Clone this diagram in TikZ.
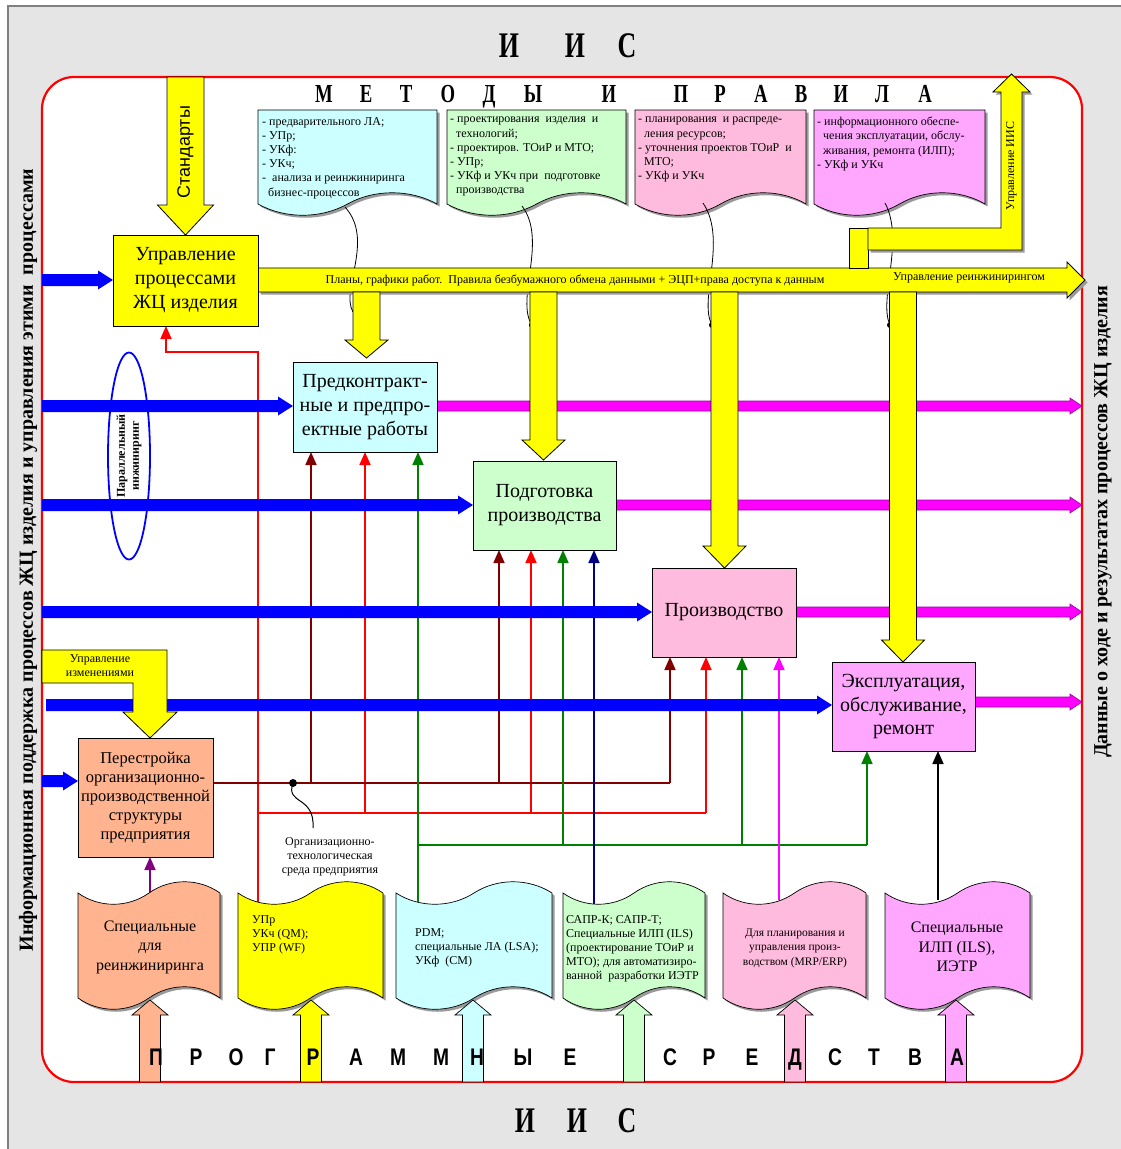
\documentclass[tikz,border=0pt]{standalone}
\usepackage{fontspec}
\setmainfont{Liberation Serif}
\setsansfont{Liberation Sans}
\newfontfamily\titleserif[FakeStretch=0.72]{Liberation Serif}
\newfontfamily\titlesans[FakeStretch=0.8]{Liberation Sans}
\usetikzlibrary{arrows.meta,shapes.geometric,shadows}
\definecolor{bggray}{HTML}{E5E5E5}
\definecolor{ccyan}{HTML}{CCFFFF}
\definecolor{cgreen}{HTML}{CCFFCC}
\definecolor{cpink}{HTML}{FFBBDD}
\definecolor{cviolet}{HTML}{FFA6FF}
\definecolor{csalmon}{HTML}{FFB38F}
\definecolor{cyel}{HTML}{FFFF00}
\definecolor{cmaroon}{HTML}{800000}
\definecolor{cgreenline}{HTML}{008000}
\definecolor{cnavy}{HTML}{000080}
\definecolor{cpurple}{HTML}{800080}
\definecolor{cmag}{HTML}{FF00FF}
\definecolor{cmagdark}{HTML}{9900AA}
\definecolor{cshadow}{HTML}{9A9A9A}
\newcommand{\RArr}[7]{\filldraw[#7] (#1,{#3-#4}) -- ({#2-#6},{#3-#4}) -- ({#2-#6},{#3-#5}) -- (#2,#3) -- ({#2-#6},{#3+#5}) -- ({#2-#6},{#3+#4}) -- (#1,{#3+#4}) -- cycle;}
\newcommand{\DArr}[7]{\filldraw[#7] ({#1-#4},#2) -- ({#1+#4},#2) -- ({#1+#4},{#3-#6}) -- ({#1+#5},{#3-#6}) -- (#1,#3) -- ({#1-#5},{#3-#6}) -- ({#1-#4},{#3-#6}) -- cycle;}
\newcommand{\UArr}[7]{\filldraw[#7] ({#1-#4},#2) -- ({#1+#4},#2) -- ({#1+#4},{#3+#6}) -- ({#1+#5},{#3+#6}) -- (#1,#3) -- ({#1-#5},{#3+#6}) -- ({#1-#4},{#3+#6}) -- cycle;}
\newcommand{\TopDoc}[4]{\filldraw[fill=#3, draw=black, line width=0.7pt, docshadow] (#1,110) -- (#2,110) -- (#2,#4) .. controls ({#2-0.15*(#2-#1)},{#4-15}) and ({#2-0.35*(#2-#1)},{#4-15}) .. ({0.5*(#1+#2)},#4) .. controls ({#1+0.35*(#2-#1)},{#4+15}) and ({#1+0.15*(#2-#1)},{#4+15}) .. (#1,#4) -- cycle;}
\newcommand{\BotDoc}[3]{\filldraw[fill=#3, draw=black, line width=0.7pt, docshadow] (#1,893) .. controls ({#1+0.15*(#2-#1)},908) and ({#1+0.35*(#2-#1)},908) .. ({0.5*(#1+#2)},893) .. controls ({#1+0.65*(#2-#1)},878) and ({#1+0.85*(#2-#1)},878) .. (#2,893) -- (#2,998) .. controls ({#2-0.15*(#2-#1)},983) and ({#2-0.35*(#2-#1)},983) .. ({0.5*(#1+#2)},998) .. controls ({#1+0.35*(#2-#1)},1013) and ({#1+0.15*(#2-#1)},1013) .. (#1,998) -- cycle;}
\begin{document}
\begin{tikzpicture}[x=1pt,y=-1pt,
  docshadow/.style={drop shadow={shadow xshift=2.5pt, shadow yshift=-2.5pt, fill=cshadow, opacity=1}},
  box/.style={draw=black, line width=0.8pt, align=center, inner sep=0pt, font=\fontsize{20}{24}\selectfont},
  conn/.style={line width=1.7pt, -{Triangle[length=13pt,width=11pt]}},
  plainline/.style={line width=1.7pt},
  doctext/.style={align=left, anchor=north west, inner sep=0pt, font=\fontsize{12}{14.2}\selectfont},
  smalltext/.style={inner sep=0pt, font=\fontsize{12}{14}\selectfont},
  yel/.style={fill=cyel, draw=black, line width=0.8pt},
  bluearr/.style={fill=blue, draw=none},
  magarr/.style={fill=cmag, draw=cmagdark, line width=0.6pt},
  bigtitle/.style={anchor=base, inner sep=0pt, font=\titleserif\bfseries\fontsize{36}{36}\selectfont},
  midtitle/.style={anchor=base, inner sep=0pt, font=\titleserif\bfseries\fontsize{26}{26}\selectfont},
  sanstitle/.style={anchor=base, inner sep=0pt, font=\titlesans\bfseries\fontsize{24}{24}\selectfont}]
\useasboundingbox (0,0) rectangle (1121,1149);
% background
\fill[white] (0,0) rectangle (1121,1149);
\fill[bggray] (8,6) rectangle (1121,1149);
\draw[gray, line width=1.5pt] (8,1149) -- (8,6) -- (1121,6);
\draw[red, line width=2.2pt, fill=white, rounded corners=32pt] (42,77) rectangle (1082,1082);
% titles
\node[bigtitle] (t1) at (509,57) {И};
\node[bigtitle] (t2) at (575,57) {И};
\node[bigtitle] (t3) at (627,57) {С};
\node[bigtitle] (b1) at (525,1132) {И};
\node[bigtitle] (b2) at (577,1132) {И};
\node[bigtitle] (b3) at (627,1132) {С};
\foreach \x/\l [count=\i] in {324/М,366/Е,406/Т,448/О,489/Д,533/Ы,609/И,681/П,720/Р,761/А,801/В,841/И,882/Л,925/А}
  \node[midtitle] (mt\i) at (\x,102) {\l};
% side texts
\node[rotate=90, inner sep=0pt, font=\bfseries\fontsize{20}{22}\selectfont] (lefttxt) at (28,560) {Информационная поддержка процессов ЖЦ изделия и управления этими\ \ процессами};
\node[rotate=90, inner sep=0pt, font=\bfseries\fontsize{20}{22}\selectfont] (righttxt) at (1103,522) {Данные о ходе и результатах процессов ЖЦ изделия};
% top documents
\TopDoc{258}{437}{ccyan}{204}
\TopDoc{447}{626}{cgreen}{204}
\TopDoc{635}{806}{cpink}{204}
\TopDoc{814}{985}{cviolet}{204}
\node[doctext] (d1) at (262,117) {- предварительного ЛА;\\- УПр;\\- УКф:\\- УКч;\\-\ \ анализа и реинжиниринга\\\hspace*{6pt}бизнес-процессов};
\node[doctext] (d2) at (450,117) {- проектирования\ \ изделия\ \ и\\\hspace*{6pt}технологий;\\- проектиров. ТОиР и МТО;\\- УПр;\\- УКф и УКч при\ \ подготовке\\\hspace*{6pt}производства};
\node[doctext] (d3) at (638,117) {- планирования\ \ и распреде-\\\hspace*{6pt}ления ресурсов;\\- уточнения проектов ТОиР\ \ и\\\hspace*{6pt}МТО;\\- УКф и УКч};
\node[doctext] (d4) at (817,117) {- информационного обеспе-\\\hspace*{6pt}чения эксплуатации, обслу-\\\hspace*{6pt}живания, ремонта (ИЛП);\\- УКф и УКч};
% wavy lines from top documents
\draw[line width=0.8pt] (345,207) .. controls (375,240) and (340,290) .. (353,312);
\draw[line width=0.8pt] (522,206) .. controls (548,240) and (515,300) .. (532,325);
\draw[line width=0.8pt] (703,203) .. controls (728,240) and (698,300) .. (712,325);
\draw[line width=0.8pt] (885,203) .. controls (905,240) and (878,300) .. (890,325);
\fill (532,325) circle (3pt) (712,325) circle (3pt) (890,325) circle (3pt);
% thin connectors
\draw[conn, red] (258,905) |- (166,352) -- (166,326);
\draw[plainline, red] (258,813) -- (706,813);
\draw[conn, red] (365,813) -- (365,452);
\draw[conn, red] (531,813) -- (531,550);
\draw[conn, red] (706,813) -- (706,657);
\draw[plainline, cmaroon] (213,783) -- (670,783);
\draw[conn, cmaroon] (311,783) -- (311,452);
\draw[conn, cmaroon] (499,783) -- (499,550);
\draw[conn, cmaroon] (670,783) -- (670,657);
\draw[conn, cgreenline] (418,905) -- (418,452);
\draw[plainline, cgreenline] (418,845) -- (867,845);
\draw[conn, cgreenline] (563,845) -- (563,550);
\draw[conn, cgreenline] (742,845) -- (742,657);
\draw[conn, cgreenline] (867,845) -- (867,751);
\draw[conn, cnavy] (594,905) -- (594,550);
\draw[conn, cpurple] (150,893) -- (150,857);
\draw[conn, cmag] (779,900) -- (779,657);
\draw[conn, black] (938,900) -- (938,751);
\fill (293,783) circle (4pt);
\draw[line width=1pt] (293,783) .. controls (285,805) and (315,795) .. (313,828);
\node[smalltext, align=center] (orgenv) at (330,857) {Организационно-\\технологическая\\среда предприятия};
% blue arrows
\RArr{42}{113}{280}{6}{9.5}{15}{bluearr}
\RArr{42}{293}{406}{6}{9.5}{15}{bluearr}
\RArr{42}{473}{505}{6}{9.5}{15}{bluearr}
\RArr{42}{652}{612}{6}{9.5}{15}{bluearr}
\RArr{46}{832}{705}{6}{9.5}{15}{bluearr}
\RArr{42}{78}{781}{6}{9.5}{15}{bluearr}
% magenta arrows
\RArr{437}{1082}{406}{5}{8}{12}{magarr}
\RArr{616}{1082}{505}{5}{8}{12}{magarr}
\RArr{796}{1082}{612}{5}{8}{12}{magarr}
\RArr{975}{1082}{702}{5}{8}{12}{magarr}
% ellipse
\draw[blue, line width=1.8pt] (129,456) ellipse [x radius=21pt, y radius=103.5pt];
\node[rotate=90, align=center, inner sep=0pt, font=\bfseries\fontsize{12}{14}\selectfont] (par) at (129,456) {Параллельный\\инжиниринг};
% yellow arrows
\RArr{258}{1085}{280}{12}{18}{18}{yel, docshadow}
\node[smalltext] (plans) at (575,280) {Планы, графики работ.\ \ Правила безбумажного обмена данными + ЭЦП+права доступа к данным};
\node[smalltext] (reeng) at (969,278) {Управление реинжинирингом};
\DArr{185.5}{77}{235}{18.5}{28}{30}{yel}
\node[rotate=90, inner sep=0pt, font=\sffamily\fontsize{18}{20}\selectfont] (std) at (185.5,152) {Стандарты};
\DArr{366.5}{292}{358}{13.5}{21.5}{18}{yel}
\DArr{543.5}{292}{460}{13.5}{21.5}{20}{yel}
\DArr{724.5}{292}{568}{13.5}{21.5}{22}{yel}
\DArr{903}{292}{662}{13.5}{21.5}{22}{yel}
\filldraw[yel] (849,228) rectangle (868,268);
\filldraw[yel, docshadow] (868,228) -- (1001,228) -- (1001,92) -- (993,92) -- (1011.5,74) -- (1030,92) -- (1022,92) -- (1022,250) -- (868,250) -- cycle;
\node[rotate=90, smalltext] (iisctl) at (1011.5,166) {Управление ИИС};
\filldraw[yel] (42,650) -- (167,650) -- (167,712) -- (177,712) -- (150,738) -- (123,712) -- (133,712) -- (133,683) -- (42,683) -- cycle;
\node[smalltext, align=center] (chg) at (100,666) {Управление\\изменениями};
% process boxes
\node[box, fill=cyel, minimum width=145pt, minimum height=91pt] (upr) at (185.5,280.5) {Управление\\процессами\\ЖЦ изделия};
\node[box, fill=ccyan, minimum width=144pt, minimum height=90pt] (pred) at (365,407) {Предконтракт-\\ные и предпро-\\ектные работы};
\node[box, fill=cgreen, minimum width=143pt, minimum height=89pt] (podg) at (544.5,505.5) {Подготовка\\производства};
\node[box, fill=cpink, minimum width=144pt, minimum height=89pt] (proizv) at (724,612.5) {Производство};
\node[box, fill=cviolet, minimum width=143pt, minimum height=89pt, font=\fontsize{20}{23.5}\selectfont] (expl) at (903.5,706.5) {Эксплуатация,\\обслуживание,\\ремонт};
\node[box, fill=csalmon, minimum width=135pt, minimum height=119pt, font=\fontsize{16.5}{19}\selectfont] (perestr) at (145.5,797.5) {Перестройка\\организационно-\\производственной\\структуры\\предприятия};
% bottom documents
\BotDoc{78}{220}{csalmon}
\BotDoc{238}{383}{cyel}
\BotDoc{396}{552}{ccyan}
\BotDoc{563}{705}{cgreen}
\BotDoc{723}{866}{cpink}
\BotDoc{885}{1030}{cviolet}
\node[align=center, inner sep=0pt, font=\fontsize{16}{19.5}\selectfont] (bd1) at (150,947) {Специальные\\для\\реинжиниринга};
\node[doctext] (bd2) at (252,915) {УПр\\УКч (QM);\\УПР (WF)};
\node[doctext] (bd3) at (415,928) {PDM;\\специальные ЛА (LSA);\\УКф\ \ (CM)};
\node[doctext] (bd4) at (566,915) {САПР-К; САПР-Т;\\Специальные ИЛП (ILS)\\(проектирование ТОиР и\\МТО); для автоматизиро-\\ванной\ \ разработки ИЭТР};
\node[align=center, inner sep=0pt, font=\fontsize{11.5}{14.5}\selectfont] (bd5) at (795,948) {Для планирования и\\управления произ-\\водством (MRP/ERP)};
\node[align=center, inner sep=0pt, font=\fontsize{16}{19.5}\selectfont] (bd6) at (957,947) {Специальные\\ИЛП (ILS),\\ИЭТР};
% bottom up arrows
\UArr{150}{1082}{1000}{10.5}{18}{15}{fill=csalmon, draw=black, line width=0.7pt}
\UArr{311}{1082}{1000}{10.5}{18}{15}{fill=cyel, draw=black, line width=0.7pt}
\UArr{473}{1082}{1000}{10.5}{18}{15}{fill=ccyan, draw=black, line width=0.7pt}
\UArr{634}{1082}{1000}{10.5}{18}{15}{fill=cgreen, draw=black, line width=0.7pt}
\UArr{795}{1082}{1000}{10.5}{18}{15}{fill=cpink, draw=black, line width=0.7pt}
\UArr{956}{1082}{1000}{10.5}{18}{15}{fill=cviolet, draw=black, line width=0.7pt}
\foreach \x/\l [count=\i] in {156/П,196/Р,236/О,270/Г,313/Р,356/А,398/М,441/М,477/Н,523/Ы,570/Е,670/С,709/Р,752/Е,795/Д,835/С,874/Т,915/В,957/А}
  \node[sanstitle] (ps\i) at (\x,1065) {\l};
\end{tikzpicture}
\end{document}
